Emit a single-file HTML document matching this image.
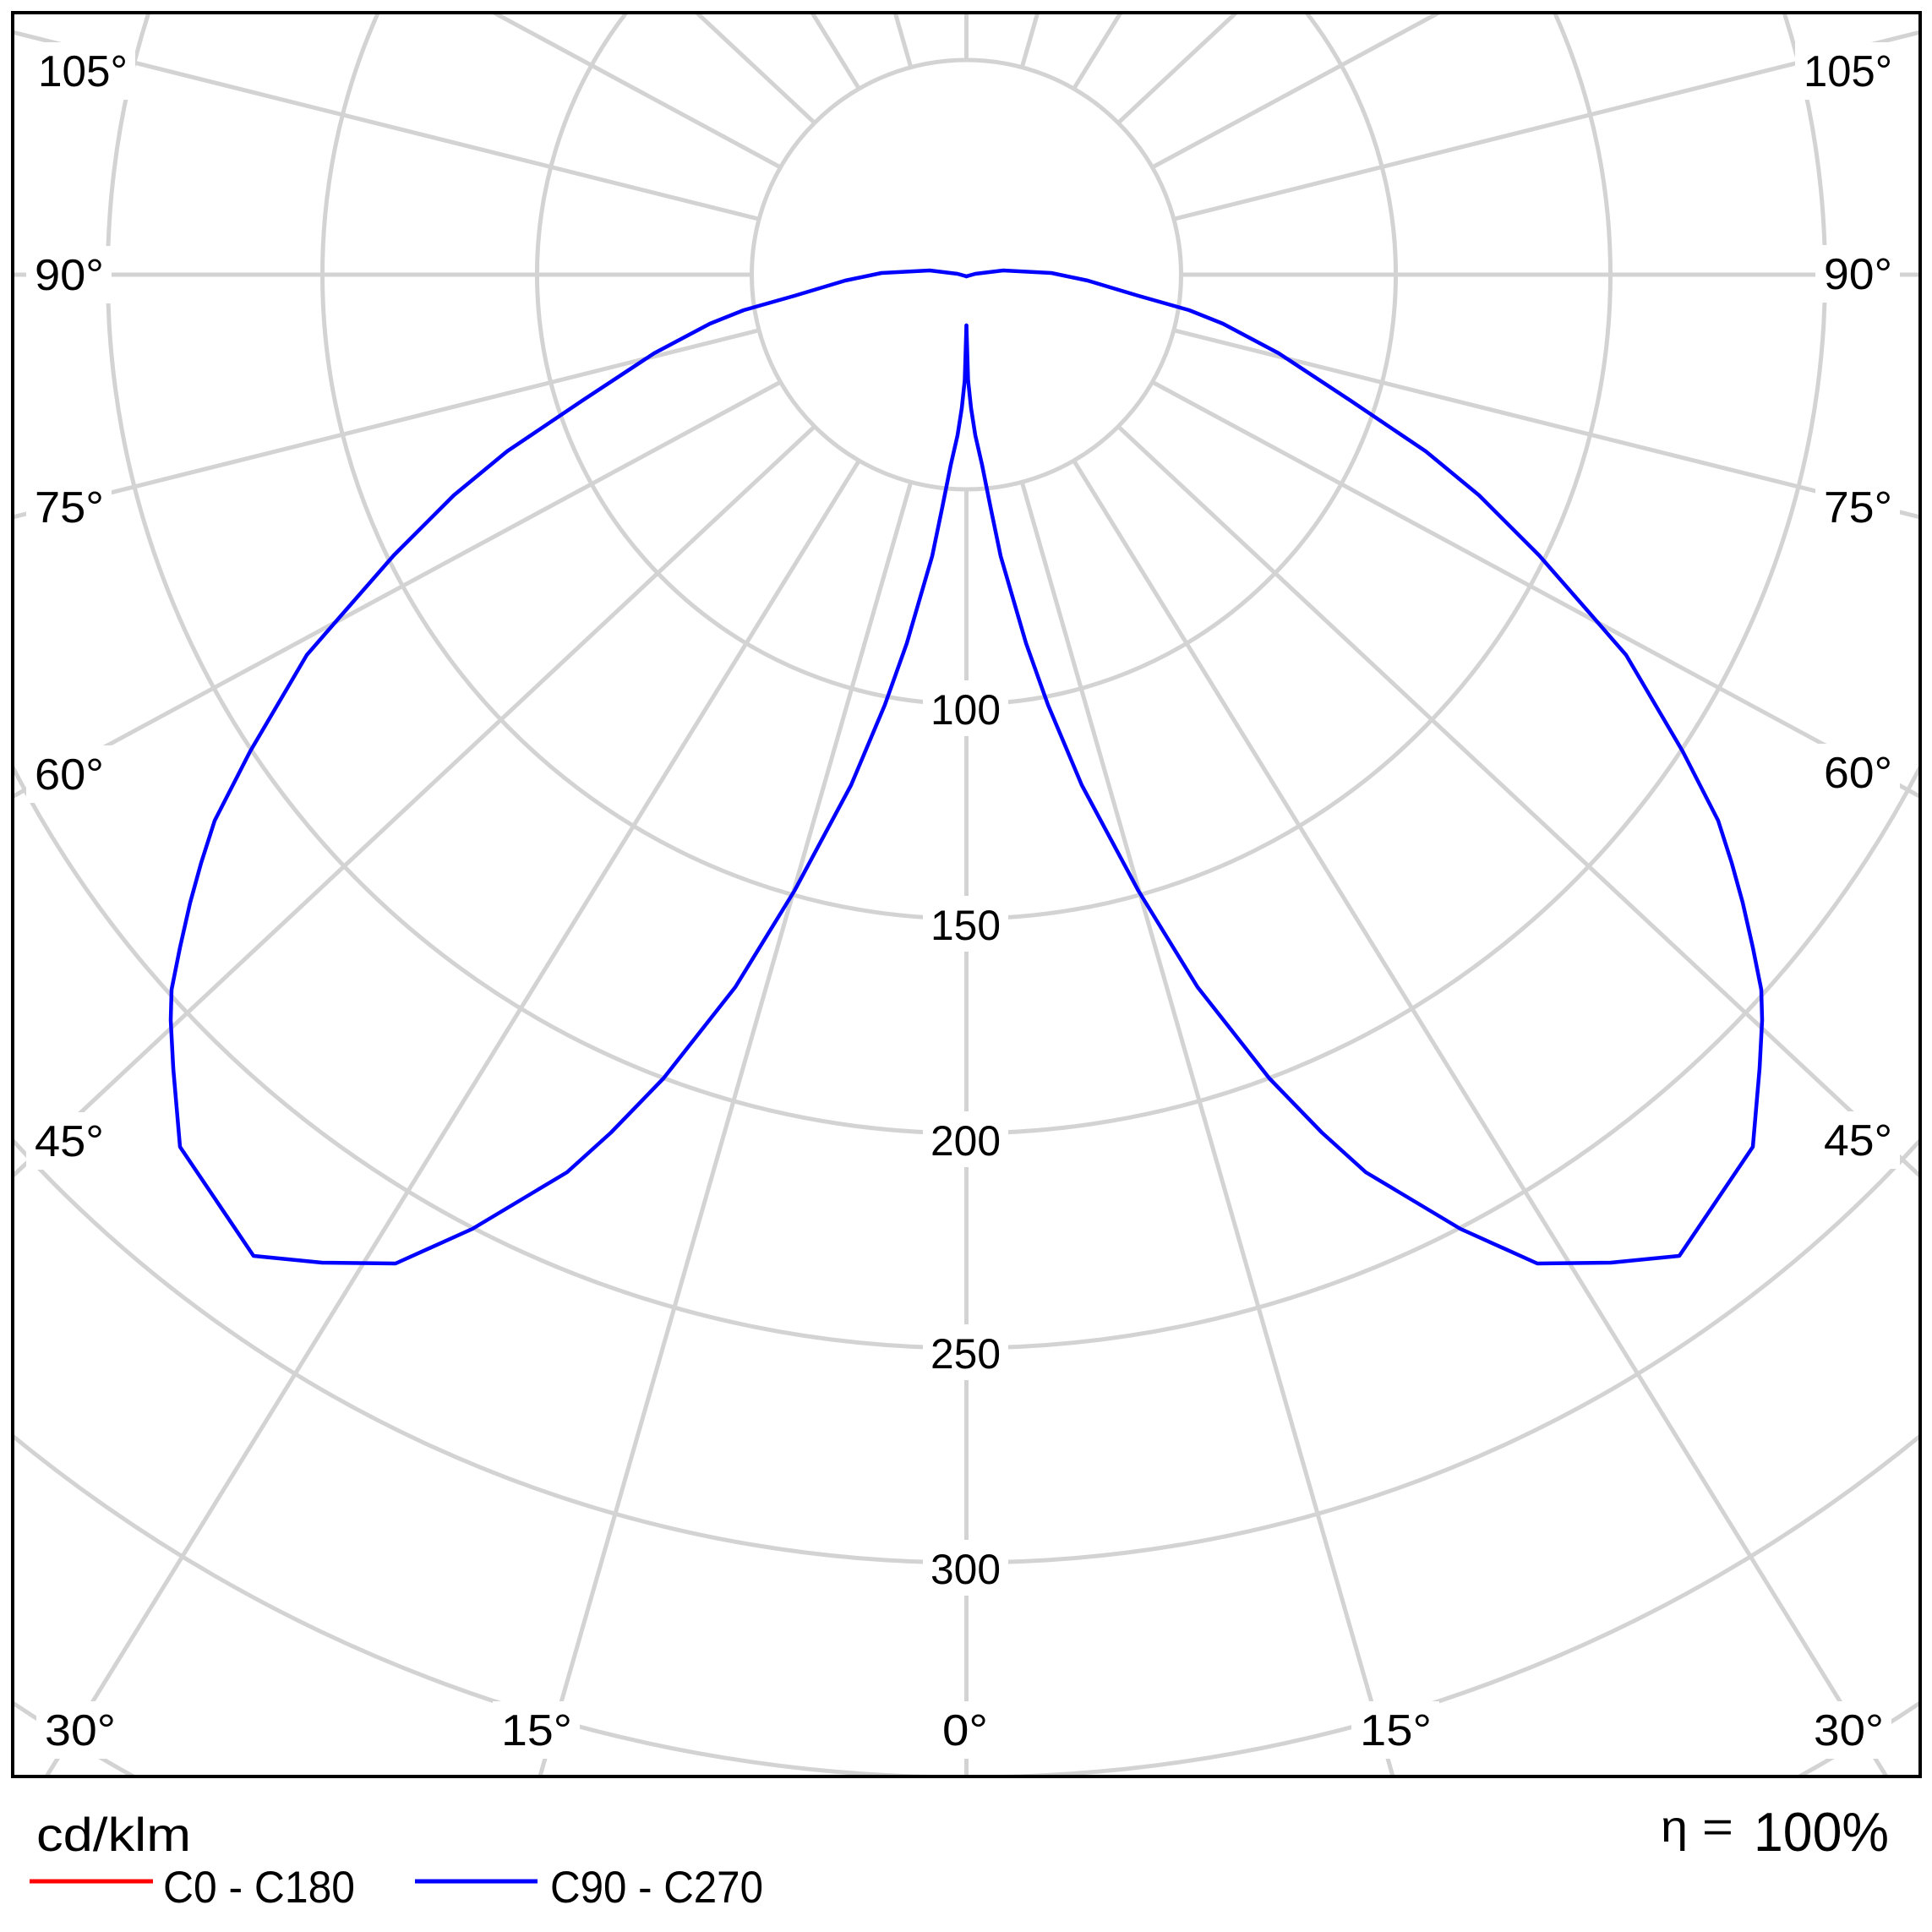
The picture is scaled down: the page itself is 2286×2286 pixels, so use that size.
<!DOCTYPE html>
<html>
<head>
<meta charset="utf-8">
<style>
html,body{margin:0;padding:0;background:#fff;width:2286px;height:2286px;overflow:hidden;}
svg{display:block;}
text{font-family:"Liberation Sans",sans-serif;fill:#000;}
</style>
</head>
<body>
<svg width="2286" height="2286" viewBox="0 0 2286 2286" xmlns="http://www.w3.org/2000/svg" overflow="hidden">
<defs>
<clipPath id="frame"><rect x="15" y="15" width="2257" height="2087"/></clipPath>
</defs>
<rect x="0" y="0" width="2286" height="2286" fill="#fff"/>
<g clip-path="url(#frame)" stroke="#d3d3d3" stroke-width="5" fill="none">
<circle cx="1143.5" cy="325" r="254"/>
<path d="M741.1 15 A508 508 0 1 0 1545.9 15"/>
<path d="M447.4 15 A762 762 0 1 0 1839.6 15"/>
<path d="M175.9 15 A1016 1016 0 1 0 2111.1 15"/>
<path d="M15 907.6 A1270 1270 0 0 0 2272 907.6"/>
<path d="M15 1349.2 A1524 1524 0 0 0 2272 1349.2"/>
<path d="M15 1699 A1778 1778 0 0 0 2272 1699"/>
<path d="M15 2014.8 A2032 2032 0 0 0 158 2102"/>
<path d="M2129 2102 A2032 2032 0 0 0 2272 2014.8"/>
<line x1="1143.5" y1="579" x2="1143.5" y2="2102"/>
<line x1="1143.5" y1="71" x2="1143.5" y2="15"/>
<line x1="1077.76" y1="570.35" x2="638.9" y2="2102"/>
<line x1="1016.5" y1="544.97" x2="55" y2="2102"/>
<line x1="963.9" y1="504.6" x2="15" y2="1391.6"/>
<line x1="923.53" y1="452" x2="15" y2="942.5"/>
<line x1="898.15" y1="390.74" x2="15" y2="612"/>
<line x1="889.5" y1="325" x2="15" y2="325"/>
<line x1="898.15" y1="259.26" x2="15" y2="38"/>
<line x1="923.53" y1="198" x2="584.5" y2="15"/>
<line x1="963.9" y1="145.4" x2="824.4" y2="15"/>
<line x1="1016.5" y1="105.03" x2="960.9" y2="15"/>
<line x1="1077.76" y1="79.65" x2="1059.2" y2="15"/>
<line x1="1209.24" y1="570.35" x2="1648.1" y2="2102"/>
<line x1="1270.5" y1="544.97" x2="2232" y2="2102"/>
<line x1="1323.1" y1="504.6" x2="2272" y2="1391.6"/>
<line x1="1363.47" y1="452" x2="2272" y2="942.5"/>
<line x1="1388.85" y1="390.74" x2="2272" y2="612"/>
<line x1="1397.5" y1="325" x2="2272" y2="325"/>
<line x1="1388.85" y1="259.26" x2="2272" y2="38"/>
<line x1="1363.47" y1="198" x2="1702.5" y2="15"/>
<line x1="1323.1" y1="145.4" x2="1462.6" y2="15"/>
<line x1="1270.5" y1="105.03" x2="1326.1" y2="15"/>
<line x1="1209.24" y1="79.65" x2="1227.8" y2="15"/>
</g>
<g fill="#fff" stroke="none">
<rect x="35" y="50" width="125" height="68"/>
<rect x="31" y="291" width="101" height="68"/>
<rect x="31" y="566" width="101" height="68"/>
<rect x="31" y="882" width="101" height="68"/>
<rect x="31" y="1316" width="101" height="68"/>
<rect x="2124" y="50" width="124" height="68"/>
<rect x="2148" y="290" width="100" height="68"/>
<rect x="2148" y="566" width="100" height="68"/>
<rect x="2148" y="880" width="100" height="68"/>
<rect x="2148" y="1315" width="100" height="68"/>
<rect x="43" y="2013" width="103" height="68"/>
<rect x="583" y="2013" width="103" height="68"/>
<rect x="1105" y="2013" width="73" height="68"/>
<rect x="1599" y="2013" width="104" height="68"/>
<rect x="2136" y="2013" width="102" height="68"/>
<rect x="1092" y="805" width="101" height="66"/>
<rect x="1092" y="1060" width="101" height="66"/>
<rect x="1092" y="1315" width="101" height="66"/>
<rect x="1092" y="1567" width="101" height="66"/>
<rect x="1092" y="1822" width="101" height="66"/>
</g>
<g font-size="52">
<text x="45" y="102" textLength="106" lengthAdjust="spacingAndGlyphs">105°</text>
<text x="41" y="343" textLength="82" lengthAdjust="spacingAndGlyphs">90°</text>
<text x="41" y="618" textLength="82" lengthAdjust="spacingAndGlyphs">75°</text>
<text x="41" y="934" textLength="82" lengthAdjust="spacingAndGlyphs">60°</text>
<text x="41" y="1368" textLength="82" lengthAdjust="spacingAndGlyphs">45°</text>
<text x="2134" y="102" textLength="105" lengthAdjust="spacingAndGlyphs">105°</text>
<text x="2158" y="342" textLength="81" lengthAdjust="spacingAndGlyphs">90°</text>
<text x="2158" y="618" textLength="81" lengthAdjust="spacingAndGlyphs">75°</text>
<text x="2158" y="932" textLength="81" lengthAdjust="spacingAndGlyphs">60°</text>
<text x="2158" y="1367" textLength="81" lengthAdjust="spacingAndGlyphs">45°</text>
<text x="53" y="2065" textLength="84" lengthAdjust="spacingAndGlyphs">30°</text>
<text x="593" y="2065" textLength="84" lengthAdjust="spacingAndGlyphs">15°</text>
<text x="1115" y="2065" textLength="54" lengthAdjust="spacingAndGlyphs">0°</text>
<text x="1609" y="2065" textLength="85" lengthAdjust="spacingAndGlyphs">15°</text>
<text x="2146" y="2065" textLength="83" lengthAdjust="spacingAndGlyphs">30°</text>
</g>
<g font-size="50">
<text x="1101" y="857" textLength="83" lengthAdjust="spacingAndGlyphs">100</text>
<text x="1101" y="1112" textLength="83" lengthAdjust="spacingAndGlyphs">150</text>
<text x="1101" y="1367" textLength="83" lengthAdjust="spacingAndGlyphs">200</text>
<text x="1101" y="1619" textLength="83" lengthAdjust="spacingAndGlyphs">250</text>
<text x="1101" y="1874" textLength="83" lengthAdjust="spacingAndGlyphs">300</text>
</g>
<g fill="none" stroke="#0000ff" stroke-width="4.5" stroke-linejoin="round" stroke-linecap="round">
<polyline points="1143.5,385 1141.5,450 1138,483 1133,515 1125,550 1115,600 1103,658 1073,761 1047,834 1007,929 940,1054 870,1168 785,1276 723,1340 671,1387 559,1454 468,1495 381,1494 300,1486 213,1357 205,1264 202,1207 203,1171 213,1121 225,1068 238,1021 254,971 296,889 363,775 403,729 466,657 537,586 600,534 689,474 774,418 840,383 880,367 940,350 1000,332 1043,323 1100,320 1133,324 1143.5,327"/>
<polyline points="1143.5,385 1145.5,450 1149,483 1154,515 1162,550 1172,600 1184,658 1214,761 1240,834 1280,929 1347,1054 1417,1168 1502,1276 1564,1340 1616,1387 1728,1454 1819,1495 1906,1494 1987,1486 2074,1357 2082,1264 2085,1207 2084,1171 2074,1121 2062,1068 2049,1021 2033,971 1991,889 1924,775 1884,729 1821,657 1750,586 1687,534 1598,474 1513,418 1447,383 1407,367 1347,350 1287,332 1244,323 1187,320 1154,324 1143.5,327"/>
</g>
<rect x="15" y="15" width="2257" height="2087" fill="none" stroke="#000" stroke-width="4"/>
<text x="43" y="2190" font-size="56" textLength="183" lengthAdjust="spacingAndGlyphs">cd/klm</text>
<line x1="35" y1="2226" x2="181" y2="2226" stroke="#ff0000" stroke-width="5"/>
<text x="193" y="2251" font-size="53" textLength="227" lengthAdjust="spacingAndGlyphs">C0 - C180</text>
<line x1="491" y1="2226" x2="636" y2="2226" stroke="#0000ff" stroke-width="5"/>
<text x="651" y="2251" font-size="53" textLength="252" lengthAdjust="spacingAndGlyphs">C90 - C270</text>
<text x="1965" y="2179" font-size="52" textLength="32" lengthAdjust="spacingAndGlyphs">η</text>
<text x="2014" y="2179" font-size="52" textLength="37" lengthAdjust="spacingAndGlyphs">=</text>
<text x="2075" y="2190" font-size="65" textLength="160" lengthAdjust="spacingAndGlyphs">100%</text>
</svg>
</body>
</html>
